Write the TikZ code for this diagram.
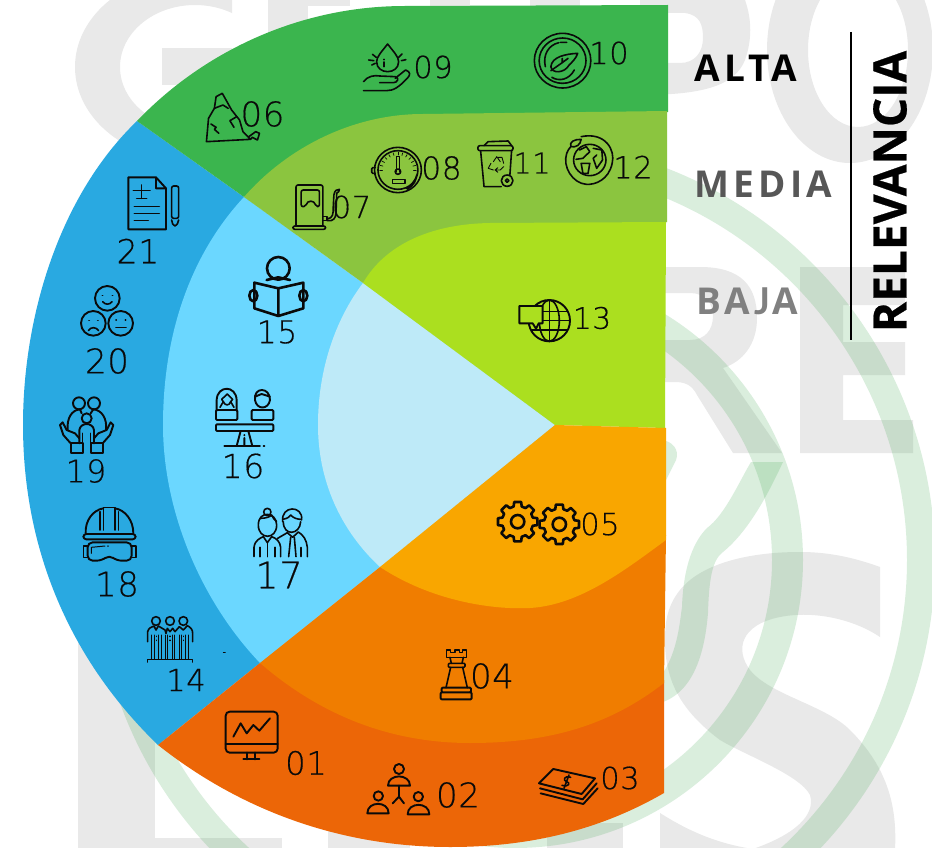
\documentclass[tikz,border=0pt]{standalone}
\usepackage{fontspec}
\setmainfont[Scale=0.87,LetterSpace=2,FakeBold=0.45]{DejaVu Sans ExtraLight}
\newfontfamily\labf[LetterSpace=11]{Open Sans}
\newfontfamily\latf[LetterSpace=11]{Lato}
\newfontfamily\relf[BoldFeatures={FakeBold=0.5}]{Open Sans}
\usetikzlibrary{calc}
\definecolor{cGreen}{HTML}{3BB54E}
\definecolor{cOlive}{HTML}{8BC53F}
\definecolor{cLime}{HTML}{ABDF1F}
\definecolor{cPale}{HTML}{BEEAF8}
\definecolor{cSky}{HTML}{6BD7FF}
\definecolor{cBlue}{HTML}{29A9E1}
\definecolor{cDeep}{HTML}{EC6607}
\definecolor{cOrange}{HTML}{F07D00}
\definecolor{cAmber}{HTML}{F9A600}
\definecolor{cWater}{HTML}{E9E9E9}
\definecolor{cRing}{HTML}{46AA55}
\definecolor{cInk}{HTML}{0A0A0A}
\tikzset{
  wm/.style={fill=cWater,draw=none},
  ringfill/.style={fill=cRing,fill opacity=.2,draw=none},
  ic/.style={draw=cInk,line width=1.6pt,line join=round,line cap=round,fill=none},
  ict/.style={ic,line width=1.9pt},
  icb/.style={ic,line width=2.6pt},
  zA/.style={shift={(130,0)},xscale=.3444,yscale=1/3},
  zB/.style={shift={(20,170)},scale=1/3},
  zC/.style={shift={(50,460)},scale=1/3},
  zD/.style={shift={(210,640)},scale=1/3},
  zE/.style={shift={(480,280)},scale=1/3},
  numtext/.style={inner sep=0pt,text=cInk},
  lev/.style={inner sep=0pt,anchor=center}
}
\newcommand\numsize[1]{\fontsize{#1}{#1}\selectfont}
\newcommand\numlab[4]{\node[numtext,font=\numsize{#3}] (n#4) at (#1,#2) {#4};}
\newcommand\gear[2]{%
  \draw[icb] \foreach \a [count=\i] in {0,45,...,315}{ \ifnum\i=1 ([shift={(\a-15:47)}]#1,#2) \else -- ([shift={(\a-15:47)}]#1,#2) \fi -- ([shift={(\a-10:60)}]#1,#2) -- ([shift={(\a+10:60)}]#1,#2) -- ([shift={(\a+15:47)}]#1,#2)} -- cycle;
  \draw[icb] (#1,#2) circle (20);
}
\begin{document}
\begin{tikzpicture}[x=1pt,y=-1pt]
\useasboundingbox (0,0) rectangle (932,848);
\clip (0,0) rectangle (932,848);
\fill[white] (0,0) rectangle (932,848);
% --- watermark letters
\begin{scope}
 \clip (0,0) rectangle (232,170);
 \fill[wm,even odd rule] (195,67) ellipse [x radius=120,y radius=95] (195,67) ellipse [x radius=75,y radius=62];
\end{scope}
\fill[wm] (162,48) rectangle (232,85);
\fill[wm] (268,0) rectangle (308,60);
\fill[wm] (308,0) -- (350,0) -- (350,6) -- (308,6) -- cycle;
\fill[wm] (430,0) rectangle (470,8);
\fill[wm] (530,0) rectangle (580,8);
\fill[wm,even odd rule] (640,0) -- (745,0) .. controls (752,20) and (752,40) .. (745,60) .. controls (735,85) and (705,95) .. (640,95) -- cycle
   (640,13) -- (685,13) .. controls (700,15) and (703,25) .. (703,38) .. controls (703,52) and (695,63) .. (680,63) -- (640,63) -- cycle;
\fill[wm,even odd rule] (850,50) ellipse [x radius=83,y radius=113] (858,50) ellipse [x radius=50,y radius=77];
\fill[wm,even odd rule] (640,267) -- (700,267) .. controls (740,267) and (757,285) .. (757,318) .. controls (757,345) and (742,362) .. (723,368) -- (782,453) -- (733,453) -- (697,395) .. controls (692,385) and (685,382) .. (675,382) -- (640,382) -- cycle
   (640,293) -- (690,293) .. controls (705,293) and (713,303) .. (713,316) .. controls (713,330) and (705,340) .. (690,340) -- (640,340) -- cycle;
\fill[wm] (800,267) -- (905,267) -- (905,305) -- (843,305) -- (843,342) -- (905,342) -- (905,375) -- (843,375) -- (843,420) -- (913,420) -- (913,453) -- (800,453) -- cycle;
\fill[wm] (880,567) .. controls (855,558) and (830,552) .. (800,552) .. controls (745,552) and (700,565) .. (680,590) .. controls (668,605) and (665,620) .. (665,640) .. controls (665,680) and (680,710) .. (720,740) .. controls (745,755) and (800,775) .. (810,795) .. controls (816,815) and (795,835) .. (750,850) -- (895,850) .. controls (897,810) and (890,770) .. (850,730) .. controls (825,705) and (770,695) .. (750,670) .. controls (735,650) and (740,625) .. (780,617) .. controls (815,610) and (855,620) .. (880,637) -- cycle;
\fill[wm] (660,813) .. controls (690,832) and (720,845) .. (760,850) -- (660,850) -- cycle;
\fill[wm] (78,640) rectangle (155,850);
\fill[wm] (78,838) rectangle (282,850);
\fill[wm] (328,825) rectangle (410,850);
\fill[wm] (547,823) rectangle (623,850);
% --- green logo rings
\fill[ringfill,even odd rule] (515,560) circle (420) (515,560) circle (392);
\fill[ringfill,even odd rule] (515,560) circle (288) (515,560) circle (257);
\fill[ringfill] (783,462) .. controls (770,490) and (750,530) .. (723,552) .. controls (712,560) and (709,580) .. (708,613) .. controls (705,650) and (695,690) .. (663,702) -- (663,673) .. controls (678,650) and (680,620) .. (682,607) .. controls (683,575) and (690,545) .. (707,528) .. controls (725,515) and (740,480) .. (751,462) -- cycle;
\fill[ringfill] (655,482) -- (660,440) .. controls (672,440) and (680,450) .. (676,460) -- (665,482) -- cycle;
% --- segments
\coordinate (C) at (555,425);
\coordinate (A) at (137,121);
\coordinate (B) at (244,197);
\coordinate (D) at (363,283);
\coordinate (E) at (380,567);
\coordinate (F) at (260,663);
\coordinate (G) at (158,745);
\fill[cBlue] (A) .. controls (60,195) and (23,315) .. (23,425) .. controls (23,550) and (70,660) .. (G) -- (F) -- (C) -- (B) -- cycle;
\fill[cSky] (B) .. controls (190,255) and (163,335) .. (163,425) .. controls (163,510) and (200,600) .. (F) -- (E) -- (C) -- (D) -- cycle;
\fill[cPale] (D) .. controls (335,320) and (318,370) .. (318,425) .. controls (318,480) and (340,530) .. (E) -- (C) -- cycle;
\fill[cGreen] (A) .. controls (200,55) and (295,6) .. (405,6) -- (668,5) -- (668,112) -- (430,118) -- (B) -- cycle;
\fill[cOlive] (B) .. controls (285,150) and (350,114) .. (423,114) -- (667,111) -- (667,222) -- (490,226) -- (D) -- cycle;
\fill[cLime] (D) .. controls (385,245) and (430,224) .. (490,223) -- (666,222) -- (665,428) -- (C) -- cycle;
\fill[cDeep] (G) .. controls (240,810) and (340,847) .. (450,847) .. controls (530,847) and (600,830) .. (664,793) -- (664,680) -- (470,735) -- (F) -- cycle;
\fill[cOrange] (F) .. controls (320,715) and (390,743) .. (470,743) .. controls (550,743) and (610,725) .. (664,683) -- (666,535) -- (530,600) -- (E) -- cycle;
\fill[cAmber] (C) -- (666,428) -- (666,540) .. controls (625,570) and (580,605) .. (530,608) .. controls (490,610) and (430,600) .. (E) -- cycle;
% --- icons, coordinates of the zoomed crops
\begin{scope}[zA]
 % 06 rock
 \draw[ic] (222,425) -- (228,355) -- (245,325) -- (250,290) -- (268,280) -- (295,330) -- (318,360) -- (328,395) -- (350,418) -- cycle;
 \draw[ic] (245,325) -- (270,315) -- (285,325) (235,372) -- (250,382) -- (245,388) -- (258,400) (290,362) -- (310,350) (290,362) -- (302,382);
 \draw[ic] (345,410) -- (365,395) -- (376,400) -- (370,420) -- (355,412) -- (350,418);
 % 09 drop and hand
 \draw[ic] (748,132) .. controls (765,155) and (780,170) .. (780,185) .. controls (780,225) and (716,225) .. (716,185) .. controls (716,170) and (731,155) .. (748,132) -- cycle;
 \draw[ic] (738,178) -- (738,179) (738,186) -- (738,200);
 \draw[ic] (693,180) -- (708,182) (704,163) -- (715,172) (788,182) -- (801,179) (780,172) -- (790,162) (702,195) -- (712,190);
 \draw[ic] (678,245) .. controls (690,228) and (710,225) .. (725,228) -- (770,230) .. controls (785,235) and (775,248) .. (765,248) -- (725,248);
 \draw[ic] (770,235) -- (800,210) .. controls (815,215) and (815,225) .. (805,235) .. controls (780,262) and (765,272) .. (745,272) -- (678,272);
 % 10 compass leaf
 \draw[ic] (1256,182) circle (82);
 \draw[ic] (1256,182) circle (68);
 \draw[ic] (1206,200) .. controls (1198,165) and (1215,135) .. (1245,128) (1250,127) -- (1268,127) (1290,210) .. controls (1275,240) and (1245,245) .. (1225,232);
 \draw[ic] (1300,160) .. controls (1265,162) and (1225,170) .. (1222,200) .. controls (1225,222) and (1262,220) .. (1275,195) .. controls (1285,185) and (1295,175) .. (1300,160) -- cycle;
 \draw[ic] (1222,212) -- (1255,188) -- (1272,175) (1255,188) -- (1255,175);
 % 07 fuel pump
 \draw[ic,rounded corners=2pt] (482,678) -- (482,555) -- (560,555) -- (560,678);
 \draw[ic,rounded corners=2pt] (497,620) -- (497,570) -- (550,570) -- (550,620) -- (540,620) .. controls (535,600) and (515,600) .. (510,620) -- cycle;
 \draw[ic,rounded corners=2pt] (473,678) rectangle (568,688);
 \draw[ic] (560,650) -- (572,650) -- (572,662) -- (560,662);
 \draw[ic] (572,657) .. controls (590,655) and (590,640) .. (590,625) -- (592,585) .. controls (594,572) and (600,567) .. (608,568) -- (606,575) .. controls (600,575) and (600,580) .. (600,590) -- (598,640) .. controls (597,655) and (590,665) .. (572,662);
 % 08 gauge
 \draw[ic] (778,510) circle (68);
 \draw[ic] (778,510) circle (58);
 \draw[ic,rounded corners=1pt] (712,503) -- (702,503) -- (702,520) -- (712,520);
 \foreach \a in {-180,-165,...,0} \draw[ic,line width=.7pt] ([shift={(\a:45)}]778,510) -- ([shift={(\a:53)}]778,510);
 \draw[ic] (774,515) -- (774,470) -- (782,470) -- (782,515);
 \draw[ic] (778,515) circle (8);
 \draw[ic] (762,538) rectangle (798,550);
 \fill[cInk] (832,520) .. controls (828,540) and (815,555) .. (800,565) -- (806,570) .. controls (825,558) and (838,540) .. cycle;
 % 11 bin
 \draw[ic,rounded corners=2pt] (1010,437) rectangle (1112,452);
 \draw[ic] (1028,437) -- (1040,425) -- (1098,423) -- (1108,437);
 \draw[ic] (1018,452) -- (1028,560) -- (1078,560) (1108,452) -- (1103,525);
 \draw[ic] (1095,542) circle (17);
 \draw[ic] (1095,542) circle (5);
 \draw[ic,line width=.9pt] (1055,485) -- (1065,470) -- (1075,485) (1070,472) -- (1080,472) -- (1085,490) (1085,500) -- (1075,510) -- (1060,510) (1048,490) -- (1040,505) -- (1055,510) (1068,503) -- (1060,510) -- (1068,517);
 % 12 earth
 \draw[ic] (1310,410) .. controls (1380,395) and (1410,450) .. (1400,490) .. controls (1390,540) and (1350,555) .. (1325,553) .. controls (1285,550) and (1255,500) .. (1268,460) .. controls (1272,450) and (1275,445) .. (1280,440);
 \draw[ic] (1335,480) circle (47);
 \draw[ic] (1280,440) .. controls (1275,425) and (1290,418) .. (1310,418) .. controls (1308,435) and (1295,443) .. (1280,440);
 \draw[ic] (1305,450) -- (1325,440) -- (1335,455) -- (1315,475) -- (1295,478) (1345,445) -- (1370,450) -- (1372,480) -- (1355,505) -- (1345,475) -- (1355,465) (1310,490) -- (1335,490) -- (1330,520) -- (1315,520) -- cycle;
\end{scope}
\begin{scope}[zB]
 % 21 document
 \draw[ict] (325,22) -- (408,22) -- (438,55) -- (438,178) -- (325,178) -- cycle (408,22) -- (408,55) -- (438,55);
 \draw[ic] (365,45) -- (365,85) (340,62) -- (390,62) (350,85) -- (380,85);
 \draw[ic] (343,110) -- (418,110) (343,130) -- (418,130) (343,152) -- (385,152);
 \draw[ic,rounded corners=2pt] (455,145) -- (455,48) -- (476,48) -- (476,145) -- cycle;
 \draw[ic] (455,150) -- (458,162) -- (465,168) -- (472,162) -- (476,150);
 % 20 faces
 \draw[ict] (262,385) circle (37) (220,460) circle (37) (302,460) circle (37);
 \draw[ic] (248,395) .. controls (255,405) and (270,405) .. (276,395);
 \draw[ic] (247,376) -- (248,376) (277,376) -- (278,376);
 \draw[ic] (205,482) .. controls (212,470) and (228,470) .. (236,482);
 \draw[ic] (207,452) -- (208,452) (233,452) -- (234,452);
 \draw[ic] (288,473) -- (318,473) (288,450) -- (289,450) (316,450) -- (317,450);
 % 19 family
 \draw[ict] (177,700) circle (18) (222,700) circle (18) (200,745) circle (15);
 \draw[ict] (143,780) .. controls (140,745) and (155,720) .. (180,718) (258,780) .. controls (262,745) and (245,720) .. (220,718);
 \draw[ict] (180,718) -- (185,730) (220,718) -- (212,730);
 \draw[ict] (178,820) -- (178,780) .. controls (180,768) and (190,762) .. (200,762) .. controls (210,762) and (220,768) .. (222,780) -- (222,820);
 \draw[ic] (188,820) -- (188,790) (212,820) -- (212,790);
 \draw[ict] (152,820) -- (130,795) -- (120,765) -- (128,757) -- (140,780) -- (165,790) -- (178,805);
 \draw[ict] (248,820) -- (270,795) -- (280,765) -- (272,757) -- (260,780) -- (235,790) -- (222,805);
 \draw[ict] (152,820) rectangle (188,848) (212,820) rectangle (248,848);
 % 15 reader
 \draw[icb] (775,295) circle (34);
 \draw[icb] (703,338) -- (775,355) -- (850,338) -- (850,415) -- (775,438) -- (703,415) -- cycle (775,355) -- (775,438);
 \draw[icb] (740,330) -- (775,322) -- (810,330);
 \draw[icb] (700,377) ellipse [x radius=12,y radius=17] (850,377) ellipse [x radius=12,y radius=17];
 % 16 balance
 \draw[ict,rounded corners=1pt] (588,720) rectangle (652,750) (695,720) rectangle (760,750);
 \draw[ict] (590,722) -- (590,690) .. controls (592,645) and (648,645) .. (650,690) -- (650,722);
 \draw[ic] (600,712) -- (610,695) -- (605,688) -- (622,672) -- (638,688) -- (632,695) -- (642,712) (610,695) .. controls (615,708) and (628,708) .. (632,695);
 \draw[ict] (705,690) .. controls (700,650) and (750,650) .. (750,690) (705,690) .. controls (710,720) and (745,720) .. (750,690) (705,680) -- (725,672) -- (750,680);
 \draw[ict,rounded corners=1pt] (588,763) rectangle (760,783);
 \draw[ict] (662,783) -- (650,828) (685,783) -- (697,828) (673,795) -- (673,796) (673,804) -- (673,826);
 \draw[ict] (613,828) -- (720,828) (731,828) -- (733,828);
\end{scope}
\begin{scope}[zC]
 % 18 helmet
 \draw[ict] (107,220) .. controls (105,180) and (130,150) .. (160,145) (195,145) .. controls (225,150) and (250,180) .. (250,220);
 \draw[ic] (160,210) -- (160,142) -- (195,142) -- (195,210) (150,210) -- (150,155) (205,210) -- (205,155);
 \draw[ict,rounded corners=3pt] (100,222) rectangle (257,238);
 \draw[ict,rounded corners=5pt] (113,247) -- (245,247) -- (245,302) -- (200,302) -- (178,285) -- (155,302) -- (113,302) -- cycle;
 \draw[ic] (113,258) -- (101,258) -- (101,292) -- (113,292) (245,258) -- (258,258) -- (258,292) -- (245,292);
 \draw[ic,line width=1pt] (124,280) -- (124,262) -- (165,258) (172,258) -- (176,258);
 % 17 two persons
 \draw[ic] (652,156) circle (11);
 \draw[ic] (625,195) .. controls (625,150) and (680,155) .. (680,195) .. controls (680,240) and (625,240) .. (625,195) -- cycle;
 \draw[ic] (630,175) .. controls (650,175) and (660,170) .. (665,165) .. controls (668,175) and (675,180) .. (680,185);
 \draw[ic] (612,290) -- (612,262) .. controls (615,240) and (630,235) .. (640,230) -- (652,248) -- (665,230) .. controls (680,235) and (690,245) .. (692,262) -- (692,290);
 \draw[ic] (652,248) -- (652,290) (630,262) -- (630,290) (675,262) -- (675,290);
 \draw[ic] (698,185) .. controls (692,135) and (760,135) .. (755,180) (700,185) .. controls (700,230) and (750,225) .. (752,185);
 \draw[ic] (698,178) .. controls (715,175) and (718,170) .. (722,165) .. controls (730,175) and (745,178) .. (752,178);
 \draw[ic] (683,235) -- (712,218) -- (728,232) -- (745,216) .. controls (760,225) and (770,240) .. (772,262) -- (772,290);
 \draw[ic] (722,232) -- (716,290) (733,232) -- (738,290) (753,262) -- (753,290);
 % 14 three persons
 \foreach \cx in {318,360,400} \draw[ic] (\cx,483) circle (13);
 \draw[ic] (293,545) -- (293,515) .. controls (295,505) and (305,500) .. (312,498) -- (318,510) -- (325,498) -- (345,510) -- (348,520) -- (352,505) -- (360,515) -- (368,505) -- (375,515) -- (388,500) -- (400,510) -- (412,497) .. controls (422,502) and (428,508) .. (428,520) -- (428,545);
 \foreach \vx in {305,312,325,333,345,352,368,375,388,395,408,416} \draw[ic,line width=1pt] (\vx,525) -- (\vx,598);
 \draw[ic] (293,606) -- (293,598) -- (428,598) -- (428,606);
 \draw[ic,line width=1pt] (318,528) -- (318,530) (318,540) -- (318,542) (360,528) -- (360,530) (360,540) -- (360,542) (400,528) -- (400,530) (400,540) -- (400,542);
 \draw[ic,line width=.8pt] (520,576) -- (526,576);
\end{scope}
\begin{scope}[zD]
 % 04 rook
 \draw[ic] (710,52) -- (710,30) -- (722,30) -- (722,38) -- (735,38) -- (735,30) -- (748,30) -- (748,38) -- (758,38) -- (758,30) -- (770,30) -- (770,52) -- cycle;
 \draw[ic] (720,52) -- (724,70) (760,52) -- (756,70);
 \draw[ic,rounded corners=1pt] (715,70) rectangle (765,82);
 \draw[ic] (722,82) -- (708,143) (758,82) -- (772,143);
 \draw[ict,rounded corners=1pt] (695,143) rectangle (783,157) (692,157) rectangle (785,178);
 % 01 monitor
 \draw[ict,rounded corners=4pt] (47,215) rectangle (203,338);
 \draw[ict] (47,312) -- (203,312);
 \draw[ict] (70,290) -- (92,250) -- (110,280) -- (130,255) -- (148,272) -- (180,235);
 \draw[ict] (110,338) -- (110,358) (135,338) -- (135,358) (100,358) -- (148,358);
 % 02 network
 \draw[ict] (567,387) circle (15);
 \draw[ict] (534,437) .. controls (534,400) and (600,400) .. (600,437) -- cycle;
 \draw[ict] (567,437) -- (567,470) -- (548,490) (567,470) -- (582,490);
 \draw[ict] (505,468) circle (14);
 \draw[ict] (472,520) .. controls (472,482) and (536,482) .. (536,520) -- cycle;
 \draw[ict] (625,470) circle (14);
 \draw[ict] (593,523) .. controls (593,485) and (658,485) .. (658,523) -- cycle;
 % 03 money
 \draw[ict] (1030,387) -- (1155,415) -- (1115,462) -- (987,430) -- cycle;
 \draw[ict] (990,445) -- (1118,478) -- (1160,430);
 \draw[ict] (992,460) -- (1120,492) -- (1163,445);
 \draw[ic] (1077,405) -- (1062,445);
 \draw[ic] (1082,412) .. controls (1062,405) and (1058,422) .. (1070,425) .. controls (1082,428) and (1078,442) .. (1056,436);
\end{scope}
\begin{scope}[zE]
 % 13 globe and speech
 \draw[ict] (208,122) circle (62);
 \draw[ic] (208,122) ellipse [x radius=30,y radius=62];
 \draw[ic] (208,60) -- (208,184);
 \draw[ic] (155,95) -- (262,95) (150,122) -- (270,122) (155,150) -- (262,150);
 \draw[ict,fill=cLime] (118,78) -- (188,78) -- (188,130) -- (176,130) -- (168,146) -- (158,130) -- (118,130) -- cycle;
 % 05 gears
 \gear{113}{725}
 \gear{238}{733}
\end{scope}
% --- numbers
\numlab{262.5}{114}{39}{06}
\numlab{433}{67}{35}{09}
\numlab{609}{53}{35}{10}
\numlab{351.5}{207}{35}{07}
\numlab{441.5}{168}{36}{08}
\numlab{532}{163}{33}{11}
\numlab{633}{167}{35}{12}
\numlab{138}{251}{38}{21}
\numlab{107}{361}{39}{20}
\numlab{86}{471}{36}{19}
\numlab{117}{584}{39}{18}
\numlab{186}{680}{35}{14}
\numlab{277}{332}{36}{15}
\numlab{243}{466}{38}{16}
\numlab{279}{575}{42}{17}
\numlab{306}{763}{37}{01}
\numlab{458}{795}{39}{02}
\numlab{620}{778}{35}{03}
\numlab{492}{676}{39}{04}
\numlab{600}{524}{35}{05}
\numlab{592}{318}{34}{13}
% --- legend
\node[lev,text=black,font={\labf\bfseries\numsize{37}}] (alta) at (746,68.5) {ALTA};
\node[lev,text=black!66,font={\labf\bfseries\numsize{37}}] (media) at (763.5,184) {MEDIA};
\node[lev,text=black!50,font={\labf\bfseries\numsize{37}}] (baja) at (747,301) {BA\kern4pt{\latf J}\kern2pt A};
\coordinate (legtop) at (851,32);
\coordinate (legbot) at (851,340);
\draw[black,line width=1.7pt] (legtop) -- (legbot);
\node[lev,text=black,rotate=90,font={\relf\bfseries\numsize{46}}] (relev) at (890,191.5) {RELEVANCIA};
\end{tikzpicture}
\end{document}
